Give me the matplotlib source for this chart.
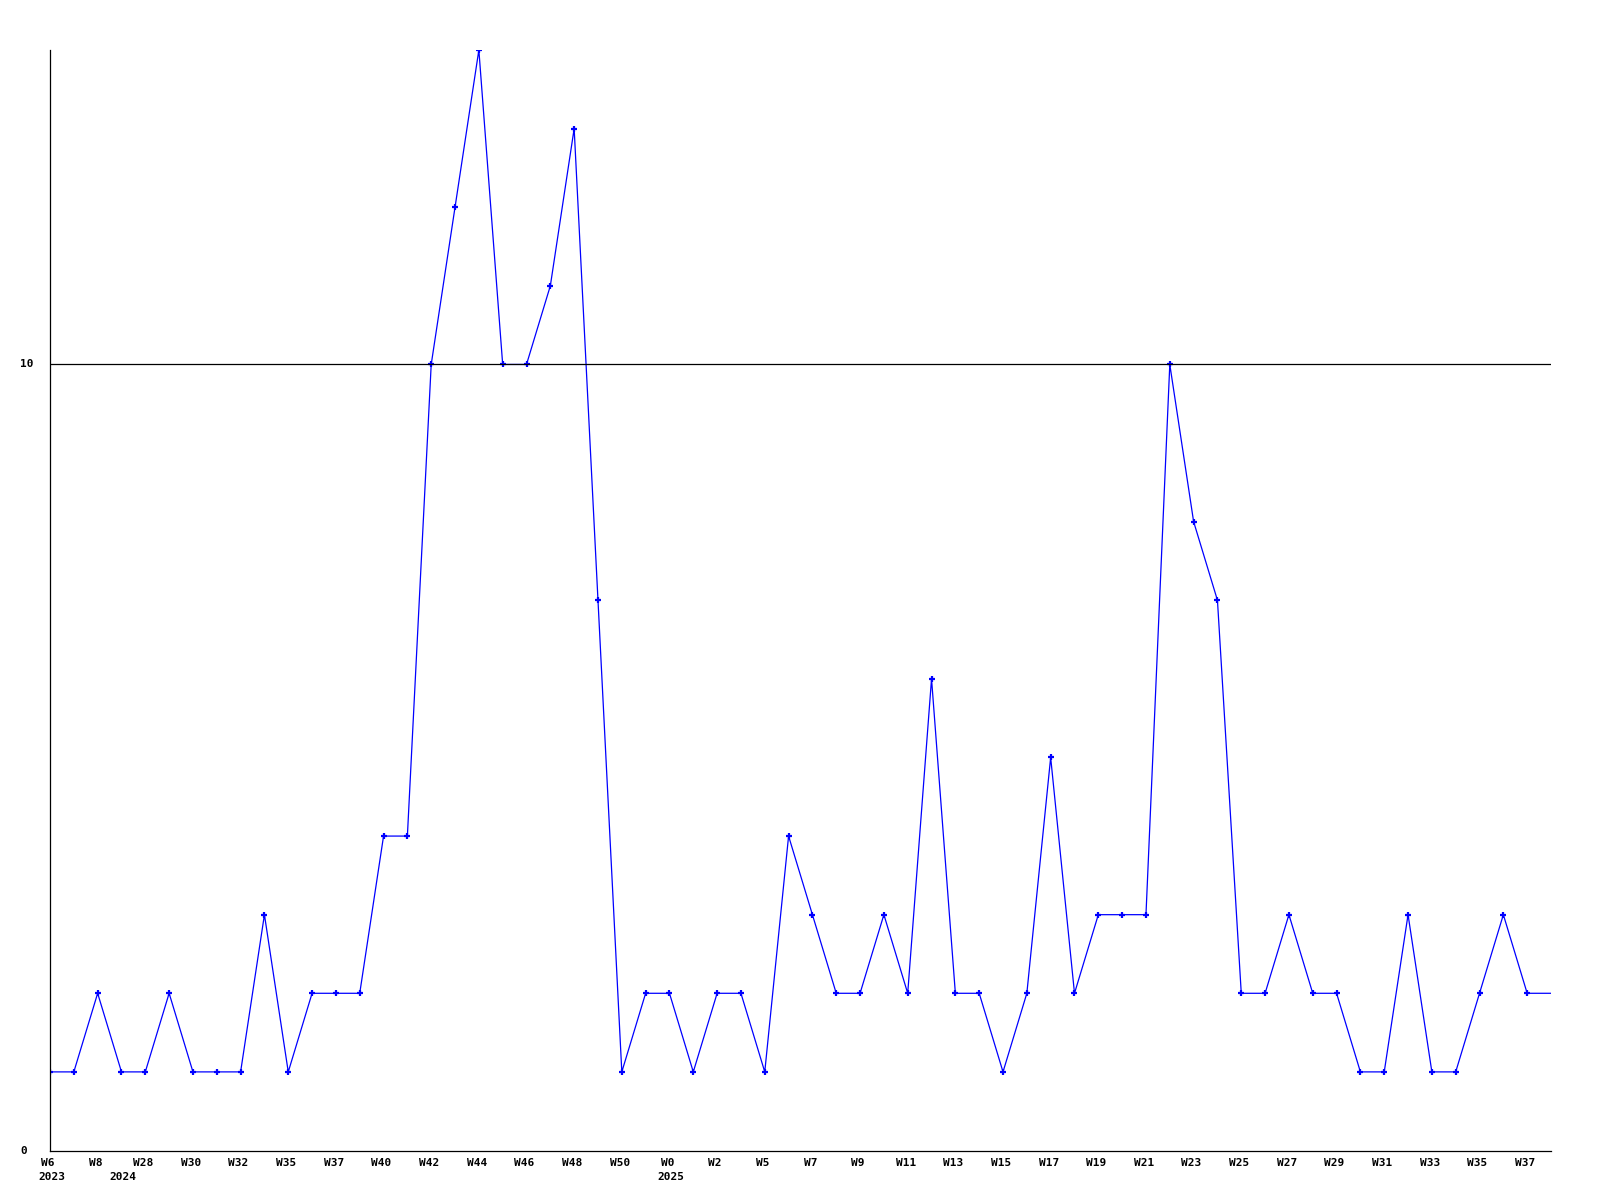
import matplotlib

matplotlib.use("Agg")
import matplotlib.pyplot as plt

# weekly counts, one value per week shown on the chart
counts = [
    1, 1, 2, 1, 1, 2, 1, 1, 1, 3,
    1, 2, 2, 2, 4, 4, 10, 12, 14, 10,
    10, 11, 13, 7, 1, 2, 2, 1, 2, 2,
    1, 4, 3, 2, 2, 3, 2, 6, 2, 2,
    1, 2, 5, 2, 3, 3, 3, 10, 8, 7,
    2, 2, 3, 2, 2, 1, 1, 3, 1, 1,
    2, 3, 2, 2,
]
week_labels = [
    "W6", "W8", "W28", "W30", "W32", "W35", "W37", "W40", "W42", "W44",
    "W46", "W48", "W50", "W0", "W2", "W5", "W7", "W9", "W11", "W13",
    "W15", "W17", "W19", "W21", "W23", "W25", "W27", "W29", "W31", "W33",
    "W35", "W37",
]
year_labels = ["2023", "2024", "2025"]
year_positions = [0, 3, 26]
y_labels = ["0", "10"]

font = dict(family="DejaVu Sans Mono", fontweight="bold", fontsize=8)

fig = plt.figure(figsize=(16, 12), dpi=100)
ax = fig.add_axes([50 / 1600, 1 - 1150.5 / 1200, 1501 / 1600, 1100.5 / 1200])

x = list(range(len(counts)))
# last point sits on the axis edge, the original draws no marker there
ax.plot(x, counts, color="#0000ff", lw=0.9, marker="+", ms=4.5, mew=1.6,
        markevery=list(range(len(counts) - 1)))
ax.axhline(10, color="black", lw=0.9)

ax.set_xlim(0, len(counts) - 1)
ax.set_ylim(0, 14)
ax.set_xticks([])
ax.set_yticks([])
for side in ("top", "right"):
    ax.spines[side].set_visible(False)
for side in ("left", "bottom"):
    ax.spines[side].set_linewidth(0.9)

for val, lab in zip([0, 10], y_labels):
    ax.annotate(lab, xy=(20 / 1600, val), xycoords=("figure fraction", "data"),
                ha="left", va="center", **font)

for i, lab in enumerate(week_labels):
    ax.annotate(lab, xy=(2 * i, 0), xycoords=("data", "axes fraction"),
                xytext=(-2, -7), textcoords="offset pixels",
                ha="center", va="top", annotation_clip=False, **font)

for pos, lab in zip(year_positions, year_labels):
    ax.annotate(lab, xy=(pos, 0), xycoords=("data", "axes fraction"),
                xytext=(-12, -22), textcoords="offset pixels",
                ha="left", va="top", annotation_clip=False, **font)

fig.savefig("out.png", dpi=100)
plt.close(fig)
